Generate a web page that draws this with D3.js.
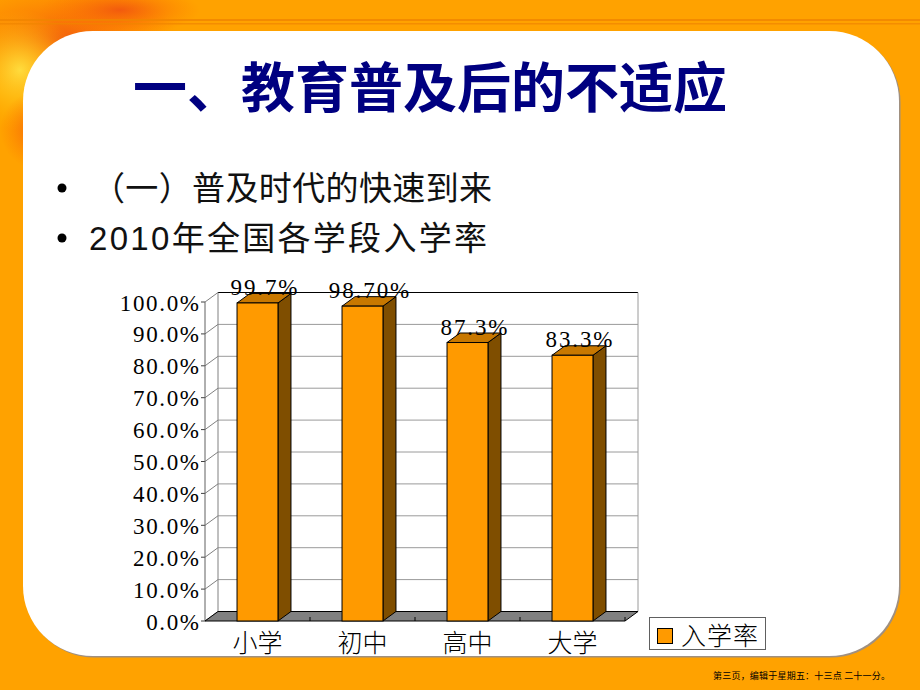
<!DOCTYPE html>
<html><head><meta charset="utf-8">
<script src="https://cdn.jsdelivr.net/npm/d3@7"></script>
<style>html,body{margin:0;padding:0;background:#FFA200;}svg{display:block;}</style>
</head><body>
<script>
const categories = ["小学", "初中", "高中", "大学"];
const values = [0.997, 0.987, 0.873, 0.833];
const valueLabels = ["99.7%", "98.70%", "87.3%", "83.3%"];
const yTicks = [0, 0.1, 0.2, 0.3, 0.4, 0.5, 0.6, 0.7, 0.8, 0.9, 1.0];
const yTickLabels = ["0.0%", "10.0%", "20.0%", "30.0%", "40.0%", "50.0%", "60.0%", "70.0%", "80.0%", "90.0%", "100.0%"];
const seriesName = "入学率";
const title = "一、教育普及后的不适应";
const bullets = ["（一）普及时代的快速到来", "2010年全国各学段入学率"];
const footer = "第三页，编辑于星期五：十三点 二十一分。";

const W = 920, H = 690;
const svg = d3.select("body").append("svg").attr("width", W).attr("height", H);
const defs = svg.append("defs");

// background
svg.append("rect").attr("width", W).attr("height", H).attr("fill", "#FFA200");
const rg1 = defs.append("radialGradient").attr("id", "fl1");
rg1.append("stop").attr("offset", "0%").attr("stop-color", "#FFE040").attr("stop-opacity", 0.95);
rg1.append("stop").attr("offset", "100%").attr("stop-color", "#FFC000").attr("stop-opacity", 0);
const rg2 = defs.append("radialGradient").attr("id", "fl2");
rg2.append("stop").attr("offset", "0%").attr("stop-color", "#F05010").attr("stop-opacity", 0.85);
rg2.append("stop").attr("offset", "100%").attr("stop-color", "#FF7000").attr("stop-opacity", 0);
svg.append("ellipse").attr("cx", 60).attr("cy", 40).attr("rx", 120).attr("ry", 60).attr("fill", "url(#fl2)");
svg.append("ellipse").attr("cx", 20).attr("cy", 70).attr("rx", 60).attr("ry", 60).attr("fill", "url(#fl1)");
svg.append("ellipse").attr("cx", 120).attr("cy", 10).attr("rx", 80).attr("ry", 25).attr("fill", "url(#fl2)");
svg.append("ellipse").attr("cx", 40).attr("cy", 130).attr("rx", 40).attr("ry", 40).attr("fill", "url(#fl2)");
svg.append("rect").attr("x", 0).attr("y", 19).attr("width", W).attr("height", 2).attr("fill", "#F08400").attr("opacity", 0.8);
svg.append("rect").attr("x", 0).attr("y", 23).attr("width", W).attr("height", 1.5).attr("fill", "#F08400").attr("opacity", 0.7);

// white panel
svg.append("rect").attr("x", 24.5).attr("y", 32.5).attr("width", 876).attr("height", 625).attr("rx", 70)
  .attr("fill", "#A09080");
svg.append("rect").attr("x", 23).attr("y", 31).attr("width", 876).attr("height", 625).attr("rx", 70)
  .attr("fill", "#FFFFFF");

// title
svg.append("text").attr("x", 430).attr("y", 84).attr("text-anchor", "middle").attr("dominant-baseline", "central")
  .attr("font-family", "'Noto Sans CJK SC', sans-serif").attr("font-weight", 700).attr("font-size", 54)
  .attr("fill", "#000080").text(title);

// bullets
const by = [188, 238];
bullets.forEach((b, i) => {
  svg.append("circle").attr("cx", 62).attr("cy", by[i]).attr("r", 4.5).attr("fill", "#000");
  svg.append("text").attr("x", i === 0 ? 92 : 89).attr("y", by[i]).attr("dominant-baseline", "central")
    .attr("font-family", "'Liberation Sans', 'Noto Sans CJK SC', sans-serif").attr("font-size", 33)
    .attr("fill", "#111").attr("textLength", i === 0 ? 400 : 398).attr("lengthAdjust", "spacing").text(b);
});

// chart geometry
const x0 = 205, x1 = 625, yBase = 621, yTop = 302;
const dx = 13, dy = -9.5;
const x = d3.scaleBand().domain(categories).range([x0, x1]).padding(0);
const y = d3.scaleLinear().domain([0, 1]).range([yBase, yTop]);
const barW = x.bandwidth() * 0.39;
const g = svg.append("g");

// back wall gridlines
yTicks.forEach((t, i) => {
  if (t === 0) return;
  g.append("line").attr("x1", x0 + dx).attr("x2", x1 + dx).attr("y1", y(t) + dy).attr("y2", y(t) + dy)
    .attr("stroke", t === 1 ? "#000" : "#9a9a9a").attr("stroke-width", 1);
});
g.append("line").attr("x1", x1 + dx).attr("x2", x1 + dx).attr("y1", y(1) + dy).attr("y2", y(0) + dy).attr("stroke", "#9a9a9a");
g.append("line").attr("x1", x0 + dx).attr("x2", x0 + dx).attr("y1", y(1) + dy).attr("y2", y(0) + dy).attr("stroke", "#808080");
yTicks.forEach(t => {
  g.append("line").attr("x1", x0).attr("y1", y(t)).attr("x2", x0 + dx).attr("y2", y(t) + dy).attr("stroke", "#808080");
  g.append("line").attr("x1", x0 - 4).attr("y1", y(t)).attr("x2", x0).attr("y2", y(t)).attr("stroke", "#404040");
});
g.append("line").attr("x1", x0).attr("x2", x0).attr("y1", y(1)).attr("y2", y(0)).attr("stroke", "#606060");

// floor
g.append("polygon").attr("points", [[x0, yBase], [x1, yBase], [x1 + dx, yBase + dy], [x0 + dx, yBase + dy]].map(p => p.join(",")).join(" "))
  .attr("fill", "#808080").attr("stroke", "#000").attr("stroke-width", 1);
categories.forEach((c, i) => {
  const xb = x(c) + x.bandwidth();
  g.append("line").attr("x1", xb).attr("x2", xb).attr("y1", yBase - 4).attr("y2", yBase).attr("stroke", "#000");
});

// y tick labels
yTicks.forEach((t, i) => {
  const s = yTickLabels[i];
  svg.append("text").attr("x", 199).attr("y", y(t) + 1).attr("text-anchor", "end").attr("dominant-baseline", "central")
    .attr("font-family", "'Liberation Serif', 'DejaVu Serif', serif").attr("font-size", 23).attr("fill", "#000")
    .attr("textLength", s.length * 13.2).attr("lengthAdjust", "spacing").text(s);
});

// bars
categories.forEach((c, i) => {
  const v = values[i];
  const bx0 = x(c) + (x.bandwidth() - barW) / 2, bx1 = bx0 + barW;
  const yt = y(v);
  const pts = a => a.map(p => p.join(",")).join(" ");
  g.append("polygon").attr("points", pts([[bx1, yt], [bx1 + dx, yt + dy], [bx1 + dx, yBase + dy], [bx1, yBase]]))
    .attr("fill", "#7F4E00").attr("stroke", "#000");
  g.append("polygon").attr("points", pts([[bx0, yt], [bx1, yt], [bx1 + dx, yt + dy], [bx0 + dx, yt + dy]]))
    .attr("fill", "#C87800").attr("stroke", "#000");
  g.append("rect").attr("x", bx0).attr("y", yt).attr("width", barW).attr("height", yBase - yt)
    .attr("fill", "#FF9A00").attr("stroke", "#000");
  const s = valueLabels[i];
  svg.append("text").attr("x", x(c) + x.bandwidth() / 2 + dx / 2).attr("y", yt - 8)
    .attr("text-anchor", "middle").attr("font-family", "'Liberation Serif', 'DejaVu Serif', serif")
    .attr("font-size", 23).attr("fill", "#000")
    .attr("textLength", s.length * 13.4).attr("lengthAdjust", "spacing").text(s);
});

// category labels
categories.forEach(c => {
  svg.append("text").attr("x", x(c) + x.bandwidth() / 2).attr("y", 641).attr("text-anchor", "middle")
    .attr("dominant-baseline", "central").attr("font-family", "'Noto Sans CJK SC', serif").attr("font-weight", 300)
    .attr("font-size", 25).attr("fill", "#000").text(c);
});

// legend
svg.append("rect").attr("x", 649.5).attr("y", 617.5).attr("width", 116).attr("height", 32).attr("fill", "#fff").attr("stroke", "#606060");
svg.append("rect").attr("x", 657.5).attr("y", 628.5).attr("width", 15).attr("height", 15).attr("fill", "#FF9A00").attr("stroke", "#000");
svg.append("text").attr("x", 681).attr("y", 634).attr("dominant-baseline", "central")
  .attr("font-family", "'Noto Sans CJK SC', serif").attr("font-weight", 300).attr("font-size", 25).attr("fill", "#000")
  .attr("textLength", 77).attr("lengthAdjust", "spacing").text(seriesName);

// footer
svg.append("text").attr("x", 713).attr("y", 679).attr("font-family", "'Noto Sans CJK SC', serif").attr("font-size", 9)
  .attr("fill", "#000").attr("textLength", 177).attr("lengthAdjust", "spacing").text(footer);
</script>
</body></html>
